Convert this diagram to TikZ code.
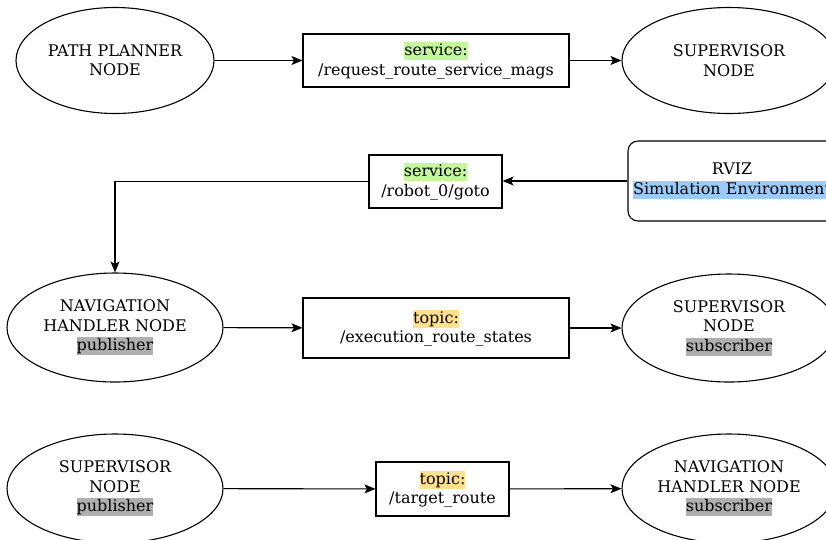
\documentclass[tikz,border=0pt]{standalone}
\usepackage{fontspec}
\setmainfont{DejaVu Serif}
\usetikzlibrary{shapes.geometric,arrows.meta}

\definecolor{svcgreen}{HTML}{C4F79C}
\definecolor{topicyellow}{HTML}{FFE08F}
\definecolor{rolegray}{HTML}{AFAFAF}
\definecolor{simblue}{HTML}{9CCBFA}

% highlighted label fragment
\newcommand{\hlbox}[2]{{\setlength{\fboxsep}{0pt}\colorbox{#1}{\rule[-4.5pt]{0pt}{18pt}#2}}}

\tikzset{
  base/.style={draw, line width=1.1pt, align=center, inner sep=0pt,
    font=\fontsize{16}{19.5}\selectfont},
  oval/.style={base, ellipse},
  chan/.style={base, rectangle},
  tool/.style={base, rectangle, rounded corners=10pt},
  arr/.style={line width=1.1pt, -{Stealth[length=11pt,width=9pt,inset=2.5pt]}}
}

\begin{document}
\begin{tikzpicture}[x=1pt,y=-1pt]
\useasboundingbox (0,0) rectangle (826,539);

% row 1: route request service
\node[oval, minimum width=198, minimum height=106] (planner) at (115,60.5) {PATH PLANNER\\NODE};
\node[chan, minimum width=266, minimum height=53] (reqsrv) at (436,60.5)
  {\hlbox{svcgreen}{service:}\\/request\_route\_service\_mags};
\node[oval, minimum width=214, minimum height=106] (sup1) at (729,60.5) {SUPERVISOR\\NODE};
\draw[arr] (planner) -- (reqsrv);
\draw[arr] (reqsrv) -- (sup1);

% row 2: goto service from rviz
\node[tool, minimum width=208, minimum height=80] (rviz) at (732,181)
  {RVIZ\\\hlbox{simblue}{Simulation Environment}};
\node[chan, minimum width=133, minimum height=53] (goto) at (435.5,181.5)
  {\hlbox{svcgreen}{service:}\\/robot\_0/goto};
\draw[arr] (rviz.west) -- (goto.east |- rviz.west);

% row 3: execution states topic
\node[oval, minimum width=216, minimum height=109] (nav1) at (115,327.5)
  {NAVIGATION\\HANDLER NODE\\\hlbox{rolegray}{publisher}};
\node[chan, minimum width=266, minimum height=60] (exec) at (436,328)
  {\hlbox{topicyellow}{topic:}\\/execution\_route\_states};
\node[oval, minimum width=214, minimum height=108] (sup2) at (729,328)
  {SUPERVISOR\\NODE\\\hlbox{rolegray}{subscriber}};
\draw[arr] (goto.west) -| (nav1.north);
\draw[arr] (nav1) -- (exec);
\draw[arr] (exec) -- (sup2);

% row 4: target route topic
\node[oval, minimum width=216, minimum height=109] (sup3) at (115,488.5)
  {SUPERVISOR\\NODE\\\hlbox{rolegray}{publisher}};
\node[chan, minimum width=133, minimum height=54] (target) at (442.5,489)
  {\hlbox{topicyellow}{topic:}\\/target\_route};
\node[oval, minimum width=214, minimum height=109] (nav2) at (729,488.5)
  {NAVIGATION\\HANDLER NODE\\\hlbox{rolegray}{subscriber}};
\draw[arr] (sup3) -- (target);
\draw[arr] (target) -- (nav2);
\end{tikzpicture}
\end{document}
